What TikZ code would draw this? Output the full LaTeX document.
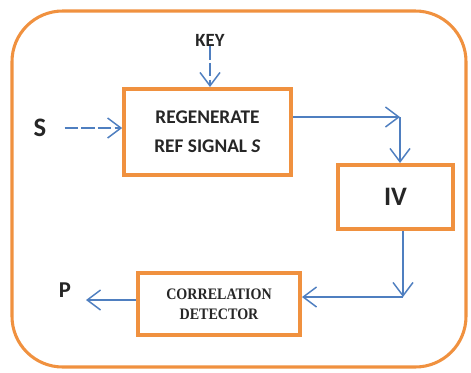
\documentclass[tikz,border=0pt]{standalone}
\usepackage{fontspec}
\setmainfont{Carlito}
\newfontfamily\corrfont[FakeStretch=0.88]{Liberation Serif}
\usepackage{tikz}
\usetikzlibrary{arrows.meta,positioning,calc}
\definecolor{frameorange}{HTML}{F0913F}
\definecolor{arrowblue}{HTML}{4F7FC0}
\definecolor{txt}{HTML}{262626}
\tikzset{
  box/.style={draw=frameorange, line width=3pt, fill=white, inner sep=0pt, align=center, text=txt},
  lbl/.style={inner sep=0pt, text=txt},
  flow/.style={-{Straight Barb[length=10pt,width=15pt,line width=1.1pt]}, line width=1.1pt, draw=arrowblue},
  flowd/.style={flow, dash pattern=on 10pt off 2.5pt},
}
\begin{document}
\begin{tikzpicture}[x=0.75pt,y=-0.75pt]
  \useasboundingbox (0,0) rectangle (471,372);
  % outer frame
  \draw[frameorange,line width=2.3pt,rounded corners=38pt] (12,11) rectangle (466,367);
  % blocks
  \node[box,minimum width=125pt,minimum height=64.5pt,font=\bfseries\fontsize{14.5}{22}\selectfont](reg) at (207.5,132){REGENERATE\\REF SIGNAL \textit{S}};
  \node[box,minimum width=86pt,minimum height=48pt,font=\bfseries\fontsize{20}{24}\selectfont](iv) at (395.5,197){IV};
  \node[box,minimum width=121.5pt,minimum height=46.5pt,font=\corrfont\bfseries\fontsize{12}{15}\selectfont](corr) at (219,304){CORRELATION\\DETECTOR};
  % labels
  \node[lbl,font=\bfseries\fontsize{14}{16}\selectfont](key) at (210,40){KEY};
  \node[lbl,font=\bfseries\fontsize{20}{24}\selectfont](sin) at (40,128){S};
  \node[lbl,font=\bfseries\fontsize{17}{20}\selectfont](pout) at (65,290){P};
  % corners
  \coordinate (c1) at (400,117);
  \coordinate (c2) at (403,297);
  \coordinate (c3) at (86,300);
  % arrows
  \draw[flowd] (key.south) -- (key.south |- reg.north);
  \draw[flowd] ($(sin.east)+(18,0)$) -- (reg.west |- sin.east);
  \draw[flow] (reg.east |- c1) -- (c1);
  \draw[flow] (c1) -- (c1 |- iv.north);
  \draw[flow] (iv.south -| c2) -- (c2);
  \draw[flow] (c2) -- (corr.east |- c2);
  \draw[flow] (corr.west |- c3) -- (c3);
\end{tikzpicture}
\end{document}
